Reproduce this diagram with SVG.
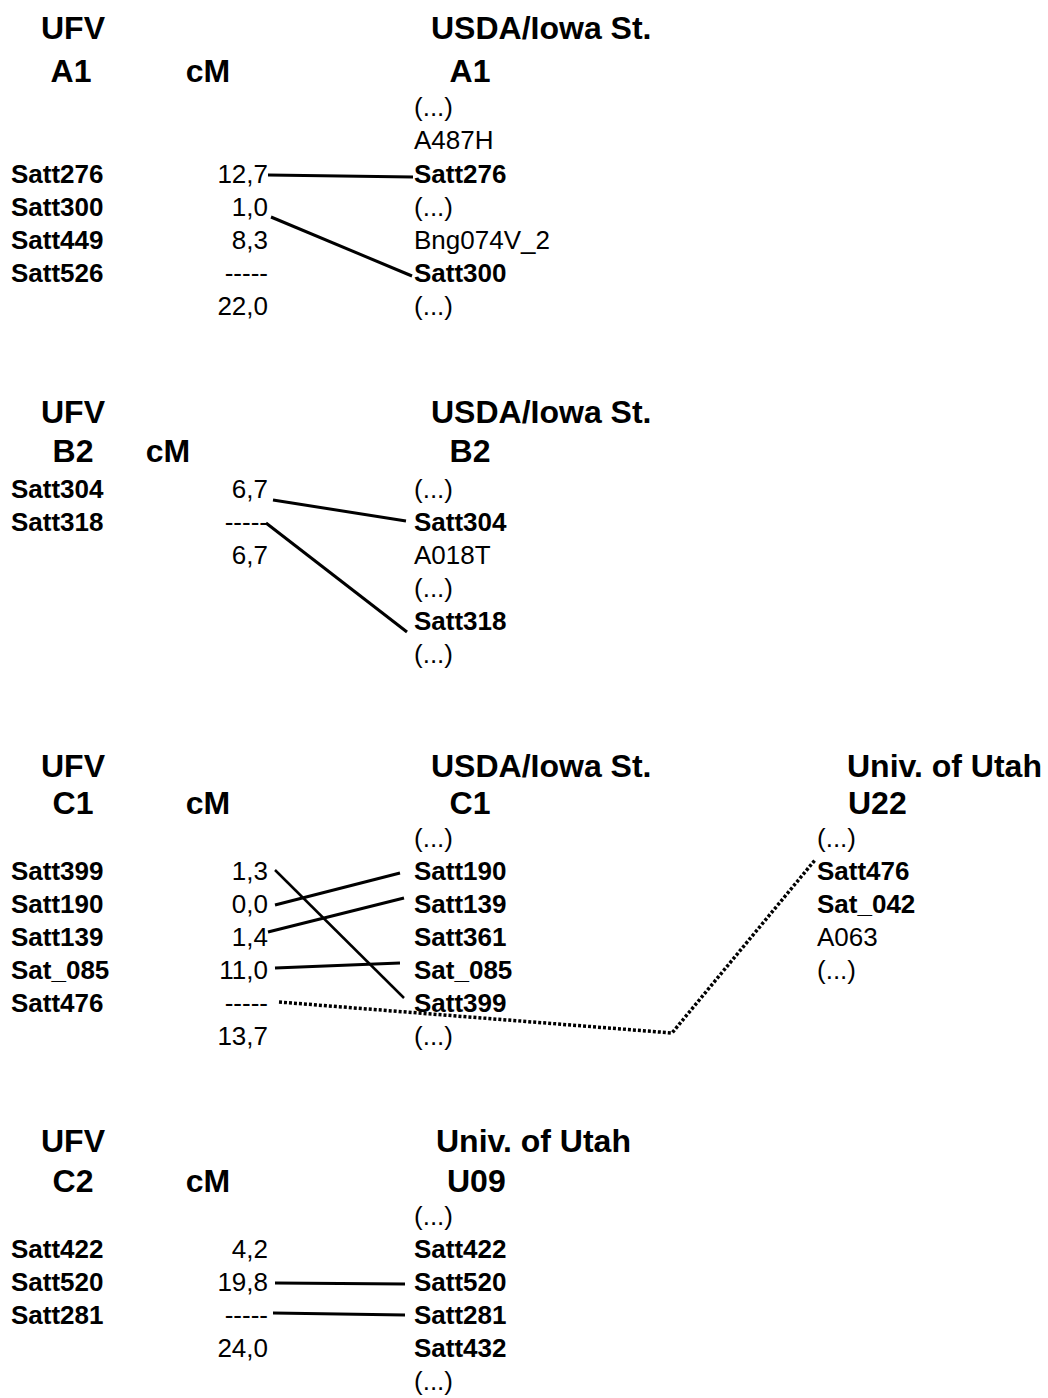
<svg xmlns="http://www.w3.org/2000/svg" width="1048" height="1398" viewBox="0 0 1048 1398">
<style>
text{font-family:"Liberation Sans",Arial,Helvetica,sans-serif;fill:#000}
.h{font-size:32px;font-weight:bold}
.b{font-size:26px;font-weight:bold}
.r{font-size:26px}
.m{text-anchor:middle}
.e{text-anchor:end}
.ln{stroke:#000;stroke-width:3;fill:none}
.thin{stroke-width:2.5}
.dot{stroke-width:3.5;stroke-dasharray:3 2}
</style>
<rect width="1048" height="1398" fill="#fff"/>

<!-- Section A1 -->
<g id="a1-ufv">
<text class="h m" x="73" y="39">UFV</text>
<text class="h m" x="71" y="82">A1</text>
<text class="b" x="11" y="183">Satt276</text>
<text class="b" x="11" y="216">Satt300</text>
<text class="b" x="11" y="249">Satt449</text>
<text class="b" x="11" y="282">Satt526</text>
</g>
<g id="a1-cm">
<text class="h m" x="208" y="82">cM</text>
<text class="r e" x="268" y="183">12,7</text>
<text class="r e" x="268" y="216">1,0</text>
<text class="r e" x="268" y="249">8,3</text>
<text class="r e" x="268" y="282">-----</text>
<text class="r e" x="268" y="315">22,0</text>
</g>
<g id="a1-usda">
<text class="h" x="431" y="39">USDA/Iowa St.</text>
<text class="h m" x="470" y="82">A1</text>
<text class="r" x="414" y="116">(...)</text>
<text class="r" x="414" y="149">A487H</text>
<text class="b" x="414" y="183">Satt276</text>
<text class="r" x="414" y="216">(...)</text>
<text class="r" x="414" y="249">Bng074V_2</text>
<text class="b" x="414" y="282">Satt300</text>
<text class="r" x="414" y="315">(...)</text>
</g>

<!-- Section B2 -->
<g id="b2-ufv">
<text class="h m" x="73" y="423">UFV</text>
<text class="h m" x="73" y="462">B2</text>
<text class="b" x="11" y="498">Satt304</text>
<text class="b" x="11" y="531">Satt318</text>
</g>
<g id="b2-cm">
<text class="h m" x="168" y="462">cM</text>
<text class="r e" x="268" y="498">6,7</text>
<text class="r e" x="268" y="531">-----</text>
<text class="r e" x="268" y="564">6,7</text>
</g>
<g id="b2-usda">
<text class="h" x="431" y="423">USDA/Iowa St.</text>
<text class="h m" x="470" y="462">B2</text>
<text class="r" x="414" y="498">(...)</text>
<text class="b" x="414" y="531">Satt304</text>
<text class="r" x="414" y="564">A018T</text>
<text class="r" x="414" y="597">(...)</text>
<text class="b" x="414" y="630">Satt318</text>
<text class="r" x="414" y="663">(...)</text>
</g>

<!-- Section C1 -->
<g id="c1-ufv">
<text class="h m" x="73" y="777">UFV</text>
<text class="h m" x="73" y="814">C1</text>
<text class="b" x="11" y="880">Satt399</text>
<text class="b" x="11" y="913">Satt190</text>
<text class="b" x="11" y="946">Satt139</text>
<text class="b" x="11" y="979">Sat_085</text>
<text class="b" x="11" y="1012">Satt476</text>
</g>
<g id="c1-cm">
<text class="h m" x="208" y="814">cM</text>
<text class="r e" x="268" y="880">1,3</text>
<text class="r e" x="268" y="913">0,0</text>
<text class="r e" x="268" y="946">1,4</text>
<text class="r e" x="268" y="979">11,0</text>
<text class="r e" x="268" y="1012">-----</text>
<text class="r e" x="268" y="1045">13,7</text>
</g>
<g id="c1-usda">
<text class="h" x="431" y="777">USDA/Iowa St.</text>
<text class="h m" x="470" y="814">C1</text>
<text class="r" x="414" y="847">(...)</text>
<text class="b" x="414" y="880">Satt190</text>
<text class="b" x="414" y="913">Satt139</text>
<text class="b" x="414" y="946">Satt361</text>
<text class="b" x="414" y="979">Sat_085</text>
<text class="b" x="414" y="1012">Satt399</text>
<text class="r" x="414" y="1045">(...)</text>
</g>
<g id="c1-utah">
<text class="h" x="847" y="777">Univ. of Utah</text>
<text class="h" x="848" y="814">U22</text>
<text class="r" x="817" y="847">(...)</text>
<text class="b" x="817" y="880">Satt476</text>
<text class="b" x="817" y="913">Sat_042</text>
<text class="r" x="817" y="946">A063</text>
<text class="r" x="817" y="979">(...)</text>
</g>

<!-- Section C2 -->
<g id="c2-ufv">
<text class="h m" x="73" y="1152">UFV</text>
<text class="h m" x="73" y="1192">C2</text>
<text class="b" x="11" y="1258">Satt422</text>
<text class="b" x="11" y="1291">Satt520</text>
<text class="b" x="11" y="1324">Satt281</text>
</g>
<g id="c2-cm">
<text class="h m" x="208" y="1192">cM</text>
<text class="r e" x="268" y="1258">4,2</text>
<text class="r e" x="268" y="1291">19,8</text>
<text class="r e" x="268" y="1324">-----</text>
<text class="r e" x="268" y="1357">24,0</text>
</g>
<g id="c2-utah">
<text class="h" x="436" y="1152">Univ. of Utah</text>
<text class="h" x="447" y="1192">U09</text>
<text class="r" x="414" y="1225">(...)</text>
<text class="b" x="414" y="1258">Satt422</text>
<text class="b" x="414" y="1291">Satt520</text>
<text class="b" x="414" y="1324">Satt281</text>
<text class="b" x="414" y="1357">Satt432</text>
<text class="r" x="414" y="1390">(...)</text>
</g>

<!-- Connectors -->
<g id="connectors">
<line class="ln" x1="268" y1="175" x2="413" y2="177"/>
<line class="ln" x1="271" y1="217" x2="412" y2="276"/>
<line class="ln" x1="273" y1="500" x2="406" y2="521"/>
<line class="ln" x1="266" y1="523" x2="407" y2="632"/>
<line class="ln thin" x1="275" y1="870" x2="404" y2="998"/>
<line class="ln" x1="275" y1="905" x2="400" y2="873"/>
<line class="ln" x1="268" y1="932" x2="404" y2="898"/>
<line class="ln" x1="275" y1="968" x2="400" y2="963"/>
<polyline class="ln dot" points="279,1002 672,1033 815,860"/>
<line class="ln" x1="275" y1="1283" x2="405" y2="1284"/>
<line class="ln" x1="273" y1="1313" x2="405" y2="1315"/>
</g>
</svg>
